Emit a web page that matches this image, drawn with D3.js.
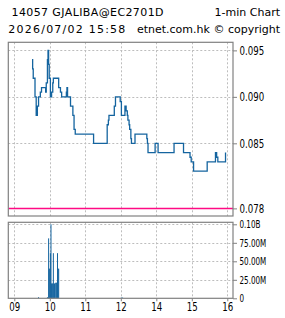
<!DOCTYPE html>
<html>
<head>
<meta charset="utf-8">
<script src="https://cdn.jsdelivr.net/npm/d3@7/dist/d3.min.js"></script>
<style>
  body { margin: 0; background: #fff; }
  svg { display: block; }
</style>
</head>
<body>
<svg id="chart" width="285" height="318"></svg>
<script>
/* header texts */
var titleLeft = "14057 GJALIBA@EC2701D";
var titleRight = "1-min Chart";
var subLeft = "2026/07/02 15:58";
var subRight = "etnet.com.hk \u00a9 copyright";

/* x axis: trading hours (lunch removed) */
var hourTicks = ["09:00", "10:00", "11:00", "13:00", "14:00", "15:00", "16:00"];
var hourLabels = ["09", "10", "11", "12", "14", "15", "16"];

/* price panel */
var priceTicks = [0.078, 0.085, 0.090, 0.095];
var priceGrid = [0.085, 0.090, 0.095];
var refPrice = 0.078;
var priceData = [
  ["09:30", 0.094], ["09:31", 0.093], ["09:32", 0.092], ["09:35", 0.090],
  ["09:37", 0.088], ["09:39", 0.089], ["09:41", 0.090], ["09:44", 0.0905],
  ["09:46", 0.091], ["09:53", 0.0905], ["09:54", 0.0915], ["09:56", 0.094],
  ["09:57", 0.095], ["09:58", 0.0935], ["09:59", 0.092], ["10:01", 0.090],
  ["10:03", 0.0905], ["10:05", 0.0915], ["10:06", 0.092], ["10:15", 0.091],
  ["10:18", 0.0905], ["10:20", 0.090], ["10:28", 0.0905], ["10:29", 0.091],
  ["10:30", 0.090], ["10:35", 0.089], ["10:39", 0.088], ["10:41", 0.0865],
  ["10:43", 0.086], ["11:14", 0.085], ["11:37", 0.087], ["11:39", 0.0875],
  ["11:40", 0.088], ["11:49", 0.089], ["11:51", 0.090], ["11:59", 0.0895],
  ["13:01", 0.088], ["13:07", 0.089], ["13:09", 0.0885], ["13:11", 0.088],
  ["13:12", 0.0875], ["13:14", 0.087], ["13:15", 0.0865], ["13:17", 0.0855],
  ["13:18", 0.085], ["13:24", 0.086], ["13:44", 0.0855], ["13:45", 0.085],
  ["13:46", 0.084], ["13:58", 0.085], ["14:03", 0.084], ["14:30", 0.085],
  ["14:46", 0.084], ["14:57", 0.0835], ["14:59", 0.083], ["15:03", 0.082],
  ["15:26", 0.083], ["15:40", 0.084], ["15:42", 0.0835], ["15:44", 0.083],
  ["15:57", 0.084]
];

/* volume panel (millions) */
var volumeTicks = [0, 25, 50, 75, 100];
var volumeTickLabels = ["0", "25.00M", "50.00M", "75.00M", "0.10B"];
var volumeTimes = ["09:41", "09:56", "09:58", "09:59", "10:00", "10:01", "10:02",
  "10:03", "10:04", "10:05", "10:06", "10:07", "10:08", "10:10", "10:11",
  "10:12", "10:13", "10:14", "10:15", "13:01", "13:03"];
var volumeValues = [1.5, 1.5, 81, 40, 40, 61, 100,
  20, 20, 20, 61, 20, 20, 21, 21,
  21, 61, 40, 40, 1, 1];

var blue = "#14649f";
var gridColor = "#bdbdbd";
var frameColor = "#808080";
var labelFont = "Liberation Sans Narrow, DejaVu Sans Condensed, sans-serif";
var squeeze = 0.8;

/* clock time -> minutes of trading from 09:00, lunch hour cut out */
function tradeMin(t) {
  var p = t.split(":");
  var m = (+p[0] - 9) * 60 + (+p[1]);
  if (m >= 240) m -= 60;
  return m;
}

var svg = d3.select("#chart");

var x = d3.scaleLinear().domain([0, 360]).range([14.3, 227.3]);
var yP = d3.scaleLinear().domain([0.07718, 0.09587]).range([216, 42.3]);
var yV = d3.scaleLinear().domain([0, 102.7]).range([298.3, 222.3]);

var pTop = 42.3, pBot = 216, vTop = 222.3, vBot = 298.3, left = 8.3, right = 233;

/* header */
var head = svg.append("g")
  .attr("font-family", "DejaVu Sans, Verdana, sans-serif")
  .attr("font-size", 11)
  .attr("fill", "#000");
head.append("text").attr("x", 11.5).attr("y", 16)
  .attr("textLength", 152).attr("lengthAdjust", "spacing").text(titleLeft);
head.append("text").attr("x", 280).attr("y", 16).attr("text-anchor", "end").text(titleRight);
head.append("text").attr("x", 8.3).attr("y", 33)
  .attr("textLength", 117).attr("lengthAdjust", "spacing").text(subLeft);
head.append("text").attr("x", 280).attr("y", 33).attr("text-anchor", "end").text(subRight);

/* grids */
function vgrid(top, bot) {
  svg.append("g").selectAll("line")
    .data(hourTicks).enter().append("line")
    .attr("x1", d => Math.round(x(tradeMin(d))) + 0.5)
    .attr("x2", d => Math.round(x(tradeMin(d))) + 0.5)
    .attr("y1", top).attr("y2", bot)
    .attr("stroke", gridColor).attr("stroke-dasharray", "2,2");
}
vgrid(pTop, pBot);
vgrid(vTop, vBot);

svg.append("g").selectAll("line")
  .data(priceGrid).enter().append("line")
  .attr("x1", left).attr("x2", right)
  .attr("y1", d => Math.round(yP(d)) + 0.5)
  .attr("y2", d => Math.round(yP(d)) + 0.5)
  .attr("stroke", gridColor).attr("stroke-dasharray", "2,2");

svg.append("g").selectAll("line")
  .data(volumeTicks.slice(1)).enter().append("line")
  .attr("x1", left).attr("x2", right)
  .attr("y1", d => Math.round(yV(d)) + 0.5)
  .attr("y2", d => Math.round(yV(d)) + 0.5)
  .attr("stroke", gridColor).attr("stroke-dasharray", "2,2");

/* reference line */
svg.append("line")
  .attr("x1", left).attr("x2", right)
  .attr("y1", yP(refPrice)).attr("y2", yP(refPrice))
  .attr("stroke", "#ff0a84").attr("stroke-width", 1.5);

/* price line */
var line = d3.line()
  .x(d => x(tradeMin(d[0])))
  .y(d => yP(d[1]))
  .curve(d3.curveStepAfter);
svg.append("path")
  .datum(priceData)
  .attr("d", line)
  .attr("fill", "none")
  .attr("stroke", blue)
  .attr("stroke-width", 1.3);

/* volume bars */
svg.append("g").selectAll("rect")
  .data(volumeTimes).enter().append("rect")
  .attr("x", d => x(tradeMin(d)) - 0.5)
  .attr("width", 1)
  .attr("y", (d, i) => yV(volumeValues[i]))
  .attr("height", (d, i) => yV(0) - yV(volumeValues[i]))
  .attr("fill", blue);

/* frames */
[[pTop, pBot], [vTop, vBot]].forEach(function(r) {
  svg.append("rect")
    .attr("x", left).attr("y", r[0])
    .attr("width", right - left).attr("height", r[1] - r[0])
    .attr("fill", "none").attr("stroke", frameColor).attr("stroke-width", 1.2);
});

/* right axes, labels squeezed to look like the narrow chart font */
function rightAxis(scale, ticks, fmt, size) {
  var g = svg.append("g")
    .attr("transform", "translate(" + right + ",0)")
    .call(d3.axisRight(scale).tickValues(ticks).tickFormat(fmt).tickSize(4).tickPadding(3));
  g.select(".domain").remove();
  g.selectAll("line").attr("stroke", frameColor);
  g.selectAll("text")
    .attr("x", 6.5 / squeeze)
    .attr("transform", "scale(" + squeeze + ",1)")
    .attr("font-family", labelFont)
    .attr("font-size", size).attr("fill", "#000");
}
rightAxis(yP, priceTicks, d3.format(".3f"), 12);
rightAxis(yV, volumeTicks, (d, i) => volumeTickLabels[i], 10);

/* bottom time axis */
var axX = svg.append("g")
  .attr("transform", "translate(0," + vBot + ")")
  .call(d3.axisBottom(x).tickValues(hourTicks.map(tradeMin))
    .tickFormat((d, i) => hourLabels[i]).tickSize(3).tickPadding(1));
axX.select(".domain").remove();
axX.selectAll("line").attr("stroke", frameColor);
axX.selectAll("text")
  .attr("transform", "scale(" + squeeze + ",1)")
  .attr("font-family", labelFont)
  .attr("font-size", 12).attr("fill", "#000");
</script>
</body>
</html>
